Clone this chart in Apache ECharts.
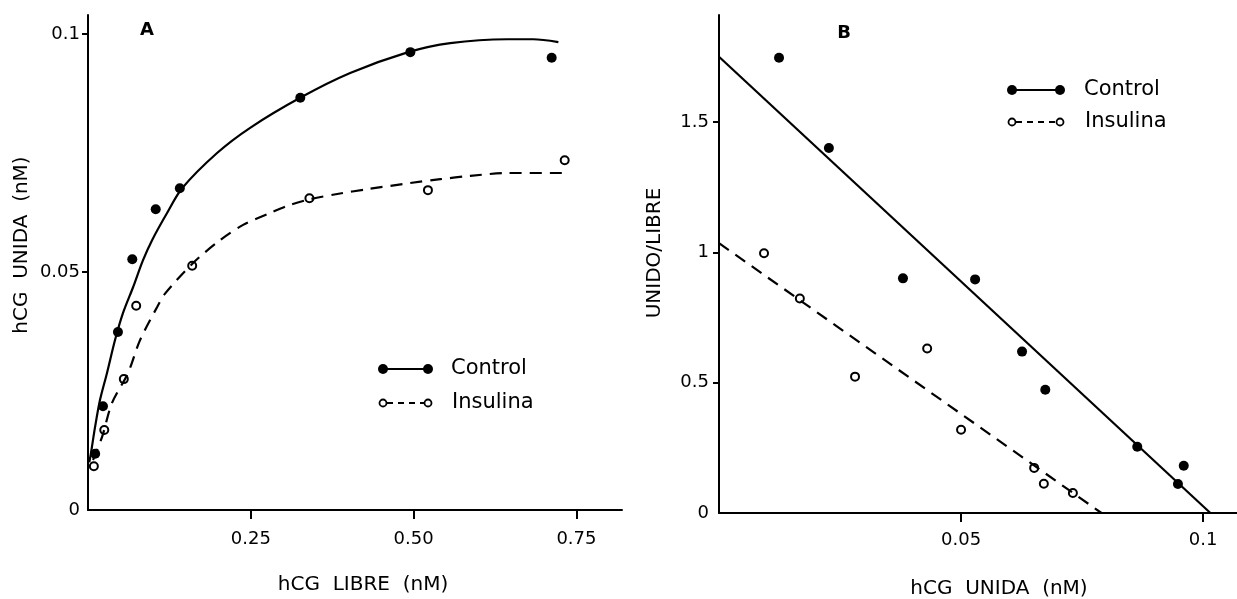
<!DOCTYPE html>
<html>
<head>
<meta charset="utf-8">
<script src="https://cdn.jsdelivr.net/npm/echarts@6/dist/echarts.min.js"></script>
<style>
  html, body { margin: 0; padding: 0; background: #fff; }
  #chart { width: 1237px; height: 599px; }
</style>
</head>
<body>
<div id="chart"></div>
<script>
// ---- Panel A: hCG unida vs hCG libre (nM) ----
const controlLibre   = [0.011, 0.023, 0.046, 0.068, 0.104, 0.141, 0.326, 0.495, 0.712];
const controlUnida   = [0.0118, 0.0218, 0.0374, 0.0527, 0.0632, 0.0676, 0.0866, 0.0962, 0.0950];
const insulinaLibre  = [0.009, 0.025, 0.055, 0.074, 0.160, 0.340, 0.522, 0.732];
const insulinaUnida  = [0.0092, 0.0168, 0.0275, 0.0429, 0.0513, 0.0655, 0.0672, 0.0735];

// hand-fitted saturation curves
const controlCurveX  = [0.002, 0.0046, 0.0108, 0.0184, 0.0292, 0.0415, 0.0538, 0.0692, 0.0845, 0.0984, 0.1214, 0.1445, 0.1982, 0.249, 0.3258, 0.4026, 0.4918, 0.5563, 0.6439, 0.6839, 0.7223];
const controlCurveY  = [0.0100, 0.0120, 0.0174, 0.0231, 0.0288, 0.0357, 0.0414, 0.0468, 0.0525, 0.0567, 0.0624, 0.0676, 0.0750, 0.0803, 0.0866, 0.0918, 0.0962, 0.0981, 0.0989, 0.0989, 0.0983];
const insulinaCurveX = [0.0077, 0.0215, 0.0369, 0.0615, 0.0799, 0.106, 0.118, 0.1614, 0.2029, 0.2382, 0.2797, 0.3104, 0.3412, 0.3827, 0.4288, 0.4948, 0.541, 0.5871, 0.6439, 0.7392];
const insulinaCurveY = [0.0105, 0.0153, 0.0225, 0.0288, 0.0357, 0.0426, 0.0454, 0.0519, 0.0567, 0.0599, 0.0624, 0.0641, 0.0653, 0.0664, 0.0674, 0.0687, 0.0695, 0.0702, 0.0708, 0.0708];

// ---- Panel B: Scatchard plot, unido/libre vs hCG unida (nM) ----
const controlUnidaB  = [0.0124, 0.0227, 0.0380, 0.0529, 0.0626, 0.0674, 0.0864, 0.0960, 0.0948];
const controlRatioB  = [1.746, 1.40, 0.90, 0.896, 0.619, 0.473, 0.254, 0.181, 0.111];
const insulinaUnidaB = [0.0093, 0.0167, 0.0281, 0.0430, 0.0500, 0.0651, 0.0671, 0.0731];
const insulinaRatioB = [0.996, 0.823, 0.523, 0.631, 0.319, 0.173, 0.112, 0.077];

// regression lines (end points)
const controlFitX    = [0, 0.1015];
const controlFitY    = [1.75, 0];
const insulinaFitX   = [0, 0.079];
const insulinaFitY   = [1.035, 0];

// ---- axis ticks and labels ----
const tickAxValues   = [0.25, 0.5, 0.75];
const tickAxLabels   = ['0.25', '0.50', '0.75'];
const labelAyValues  = [0, 0.05, 0.1];
const labelAyText    = ['0', '0.05', '0.1'];
const tickAyValues   = [0.05, 0.1];
const tickBxValues   = [0.05, 0.1];
const tickBxLabels   = ['0.05', '0.1'];
const labelByValues  = [0, 0.5, 1, 1.5];
const labelByText    = ['0', '0.5', '1', '1.5'];
const tickByValues   = [0.5, 1, 1.5];

const FONT = '"DejaVu Sans", sans-serif';
const INK = '#000';

const zip = (xs, ys) => xs.map((x, i) => [x, ys[i]]);
const labelFor = (vals, texts) => v => {
  const i = vals.findIndex(t => Math.abs(t - v) < 1e-9);
  return i >= 0 ? texts[i] : '';
};

function valueAxis(grid, min, max, labelVals, labelFmt, tickVals, tickLen, margin) {
  return {
    type: 'value', gridIndex: grid, min: min, max: max,
    splitLine: { show: false },
    axisLine: { show: true, onZero: false, lineStyle: { color: INK, width: 2 } },
    axisTick: { show: true, customValues: tickVals, length: tickLen, lineStyle: { color: INK, width: 2 } },
    axisLabel: { customValues: labelVals, formatter: labelFmt, margin: margin,
                 color: INK, fontSize: 18, fontFamily: FONT }
  };
}

const solid = { color: INK, width: 2.2 };
const dashed = { color: INK, width: 2.2, type: [12, 8] };
const filledDot = { symbol: 'circle', symbolSize: 10, itemStyle: { color: INK, opacity: 1 } };
const openDot = { symbol: 'circle', symbolSize: 8, itemStyle: { color: '#fff', borderColor: INK, borderWidth: 2, opacity: 1 } };

function legend(x1, x2, y1, y2, tx) {
  return [
    { type: 'line', shape: { x1: x1, y1: y1, x2: x2, y2: y1 }, style: { stroke: INK, lineWidth: 2 } },
    { type: 'circle', shape: { cx: x1, cy: y1, r: 5 }, style: { fill: INK } },
    { type: 'circle', shape: { cx: x2, cy: y1, r: 5 }, style: { fill: INK } },
    { type: 'text', x: tx, y: y1, style: { text: 'Control', font: '21px ' + FONT, fill: INK,
        textVerticalAlign: 'middle', verticalAlign: 'middle' } },
    { type: 'line', shape: { x1: x1 + 4, y1: y2, x2: x2 - 4, y2: y2 }, style: { stroke: INK, lineWidth: 2, lineDash: [6, 5] } },
    { type: 'circle', shape: { cx: x1, cy: y2, r: 3.5 }, style: { fill: '#fff', stroke: INK, lineWidth: 1.8 } },
    { type: 'circle', shape: { cx: x2, cy: y2, r: 3.5 }, style: { fill: '#fff', stroke: INK, lineWidth: 1.8 } },
    { type: 'text', x: tx + 1, y: y2, style: { text: 'Insulina', font: '21px ' + FONT, fill: INK,
        textVerticalAlign: 'middle', verticalAlign: 'middle' } }
  ];
}

function caption(text, x, y, size, rot, weight) {
  return { type: 'text', x: x, y: y, rotation: rot || 0,
    style: { text: text, font: (weight || 'normal') + ' ' + size + 'px ' + FONT, fill: INK,
      textAlign: 'center', align: 'center', textVerticalAlign: 'middle', verticalAlign: 'middle' } };
}

const chart = echarts.init(document.getElementById('chart'), null, { renderer: 'canvas' });
chart.setOption({
  animation: false,
  backgroundColor: '#fff',
  grid: [
    { left: 88, top: 15, width: 534, height: 495 },
    { left: 719, top: 15, width: 518, height: 498 }
  ],
  xAxis: [
    valueAxis(0, 0, 0.82, tickAxValues, labelFor(tickAxValues, tickAxLabels), tickAxValues, 9, 20),
    valueAxis(1, 0, 0.107, tickBxValues, labelFor(tickBxValues, tickBxLabels), tickBxValues, 9, 18)
  ],
  yAxis: [
    valueAxis(0, 0, 0.104, labelAyValues, labelFor(labelAyValues, labelAyText), tickAyValues, 6, 8),
    valueAxis(1, 0, 1.91, labelByValues, labelFor(labelByValues, labelByText), tickByValues, 6, 10)
  ],
  series: [
    { name: 'Control', type: 'line', xAxisIndex: 0, yAxisIndex: 0, data: zip(controlCurveX, controlCurveY),
      smooth: 0.3, symbol: 'none', lineStyle: solid, silent: true },
    { name: 'Insulina', type: 'line', xAxisIndex: 0, yAxisIndex: 0, data: zip(insulinaCurveX, insulinaCurveY),
      smooth: 0.3, symbol: 'none', lineStyle: dashed, silent: true },
    Object.assign({ name: 'Control', type: 'scatter', xAxisIndex: 0, yAxisIndex: 0, data: zip(controlLibre, controlUnida) }, filledDot),
    Object.assign({ name: 'Insulina', type: 'scatter', xAxisIndex: 0, yAxisIndex: 0, data: zip(insulinaLibre, insulinaUnida) }, openDot),

    { name: 'Control', type: 'line', xAxisIndex: 1, yAxisIndex: 1, data: zip(controlFitX, controlFitY),
      symbol: 'none', lineStyle: solid, silent: true },
    { name: 'Insulina', type: 'line', xAxisIndex: 1, yAxisIndex: 1, data: zip(insulinaFitX, insulinaFitY),
      symbol: 'none', lineStyle: dashed, silent: true },
    Object.assign({ name: 'Control', type: 'scatter', xAxisIndex: 1, yAxisIndex: 1, data: zip(controlUnidaB, controlRatioB) }, filledDot),
    Object.assign({ name: 'Insulina', type: 'scatter', xAxisIndex: 1, yAxisIndex: 1, data: zip(insulinaUnidaB, insulinaRatioB) }, openDot)
  ],
  graphic: [
    caption('A', 147, 30, 18, 0, 'bold'),
    caption('B', 844, 33, 18, 0, 'bold'),
    caption('hCG  LIBRE  (nM)', 363, 585, 20),
    caption('hCG  UNIDA  (nM)', 22, 245, 20, Math.PI / 2),
    caption('hCG  UNIDA  (nM)', 999, 589, 20),
    caption('UNIDO/LIBRE', 655, 253, 20, Math.PI / 2)
  ].concat(legend(383, 428, 369, 403, 451), legend(1012, 1060, 90, 122, 1084))
});
</script>
</body>
</html>
